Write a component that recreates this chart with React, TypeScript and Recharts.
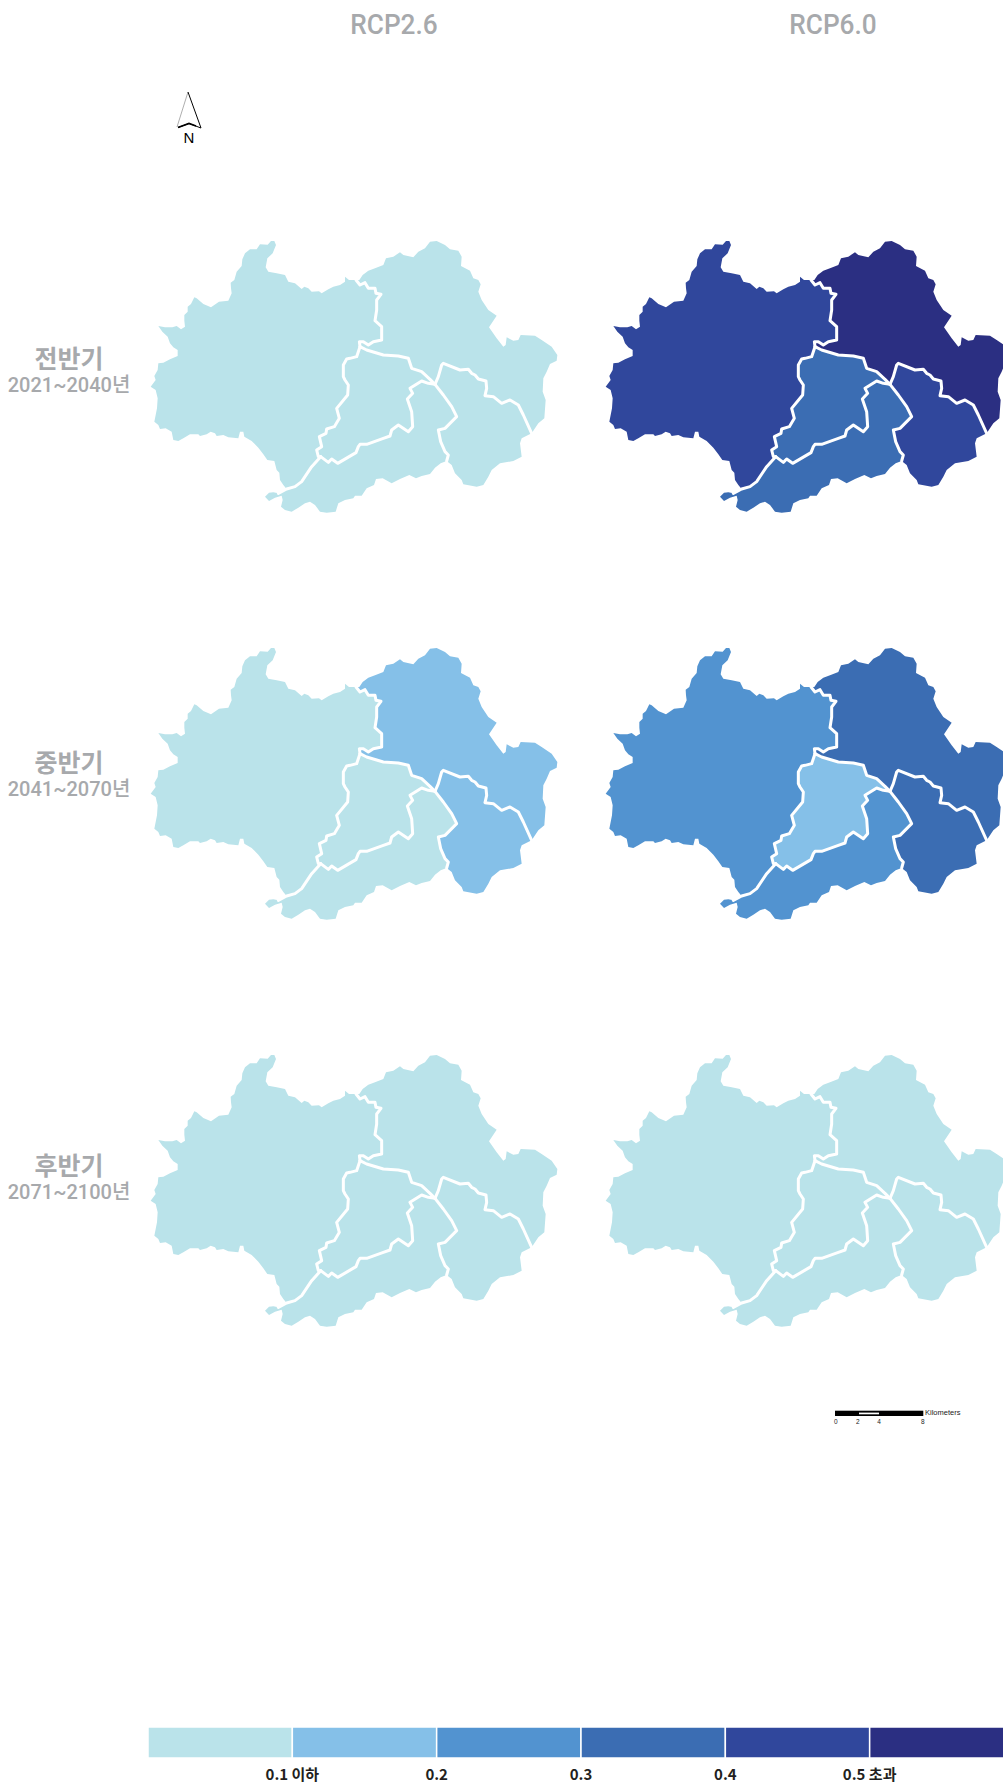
import { ScatterChart, Scatter, XAxis, YAxis, BarChart, Bar } from 'recharts'

type Pt = [number, number]

// map units: 3 units = 1 px on the page
// shared boundaries
const N1: Pt = [633, 150]
const J1: Pt = [645, 350]
const J2: Pt = [527, 680]
const J3: Pt = [870, 463]
const S1: Pt = [425, 777]
const S2: Pt = [905, 693]
const S3: Pt = [1160, 610]

const outerA: Pt[] = [N1, [612, 150], [600, 140], [600, 155], [585, 165], [565, 170], [550, 178], [530, 190], [522, 184], [500, 185], [490, 175], [478, 170], [470, 177], [450, 160], [430, 155], [420, 135], [395, 130], [370, 125], [362, 112], [367, 85], [383, 70], [393, 45], [388, 33], [378, 33], [368, 44], [345, 43], [335, 58], [315, 58], [300, 70], [292, 88], [290, 108], [275, 125], [268, 150], [257, 158], [258, 175], [260, 190], [250, 212], [222, 215], [198, 232], [175, 222], [155, 205], [148, 202], [138, 222], [128, 230], [128, 245], [118, 255], [118, 272], [120, 290], [108, 298], [95, 288], [82, 292], [60, 292], [40, 288], [52, 305], [68, 320], [75, 340], [85, 352], [98, 360], [98, 378], [75, 388], [55, 398], [40, 400], [38, 420], [28, 438], [32, 450], [17, 470], [32, 480], [38, 505], [36, 535], [28, 575], [40, 585], [45, 597], [62, 595], [80, 605], [85, 630], [100, 633], [115, 625], [135, 613], [160, 613], [165, 618], [185, 613], [197, 605], [210, 610], [215, 618], [235, 615], [250, 622], [280, 625], [285, 605], [295, 605], [298, 620], [320, 633], [340, 653], [355, 673], [367, 690], [388, 693], [395, 720], [403, 728], [405, 750], [415, 765], S1]
const outerD: Pt[] = [S1, [400, 790], [385, 787], [372, 788], [360, 800], [372, 813], [390, 803], [410, 797], [413, 810], [408, 830], [420, 840], [440, 845], [460, 833], [480, 820], [495, 815], [510, 825], [525, 845], [545, 848], [572, 845], [580, 820], [600, 810], [625, 805], [630, 797], [650, 797], [665, 775], [687, 765], [693, 747], [713, 745], [740, 760], [765, 747], [793, 735], [813, 745], [830, 738], [855, 732], [870, 713], [887, 700], S2]
const outerE: Pt[] = [S3, [1130, 625], [1125, 640], [1130, 680], [1105, 693], [1065, 700], [1040, 720], [1030, 740], [1015, 765], [995, 770], [955, 763], [950, 750], [930, 730], [920, 705], S2]
const outerB: Pt[] = [N1, [643, 150], [653, 135], [670, 122], [690, 115], [715, 105], [723, 85], [745, 80], [765, 67], [775, 75], [805, 82], [820, 65], [840, 55], [855, 35], [875, 33], [900, 45], [915, 58], [940, 62], [950, 80], [948, 108], [975, 122], [985, 145], [1000, 150], [1007, 163], [1000, 185], [1010, 210], [1030, 240], [1055, 257], [1032, 292], [1055, 325], [1075, 350], [1082, 345], [1085, 322], [1105, 332], [1120, 330], [1127, 315], [1170, 317], [1190, 330], [1220, 350], [1237, 375], [1235, 392], [1215, 402], [1205, 425], [1195, 445], [1193, 485], [1202, 510], [1198, 565], [1180, 580], S3]

const lineAB: Pt[] = [N1, [645, 165], [660, 158], [670, 175], [690, 175], [693, 190], [708, 193], [695, 210], [695, 240], [690, 272], [710, 290], [710, 330], [685, 335], [670, 345], [655, 335], [643, 335], J1]
const lineAC: Pt[] = [J1, [635, 380], [615, 385], [605, 387], [595, 405], [595, 440], [600, 450], [610, 465], [608, 495], [575, 535], [583, 565], [568, 590], [545, 597], [543, 610], [523, 620], [530, 650], [515, 660], [520, 680], J2]
const lineAD: Pt[] = [J2, [500, 710], [470, 755], [450, 770], S1, [400, 790]]
const lineCB: Pt[] = [J1, [665, 360], [715, 375], [760, 378], [790, 385], [800, 415], [830, 425], [855, 448], J3]
const lineCD: Pt[] = [J3, [850, 460], [830, 453], [795, 475], [803, 490], [787, 507], [800, 545], [803, 590], [790, 605], [760, 585], [740, 600], [735, 618], [715, 625], [665, 643], [645, 643], [640, 650], [633, 668], [578, 700], [560, 687], [550, 697], J2]
const lineDE: Pt[] = [J3, [895, 495], [920, 530], [935, 560], [900, 595], [880, 600], [887, 635], [900, 665], [910, 675], S2]
const lineBE: Pt[] = [J3, [880, 440], [890, 405], [895, 400], [945, 420], [970, 418], [980, 430], [990, 435], [1000, 447], [1023, 453], [1025, 475], [1020, 497], [1045, 500], [1070, 520], [1095, 510], [1120, 525], [1135, 555], S3]

const rev = (p: Pt[]) => [...p].reverse()

const regionA = [...outerA, ...rev(lineAD).slice(1), ...rev(lineAC), ...rev(lineAB)]
const regionB = [...outerB, ...rev(lineBE), ...rev(lineCB), ...rev(lineAB)]
const regionC = [...lineAC, ...rev(lineCD), ...rev(lineCB)]
const regionD = [...lineAD, ...outerD, ...rev(lineDE), ...lineCD]
const regionE = [...lineBE, ...outerE, ...rev(lineDE)]

const regions = [regionA, regionB, regionC, regionD, regionE]
const boundaries = [lineAB, lineAC, lineAD, lineCB, lineCD, lineDE, lineBE]

// colour class of regions A,B,C,D,E in each panel
const early26 = [0, 0, 0, 0, 0]
const early60 = [4, 5, 3, 3, 4]
const mid26 = [0, 1, 0, 0, 1]
const mid60 = [2, 3, 1, 2, 3]
const late26 = [0, 0, 0, 0, 0]
const late60 = [0, 0, 0, 0, 0]

const classColors = ['#BAE3EA', '#85C0E8', '#5293D0', '#3B6DB3', '#30479C', '#2B2F82']
const legendLabels = ['0.1 이하', '0.2', '0.3', '0.4', '0.5 초과']
const legendTicks = [1, 2, 3, 4, 5]
const legendRow = [{ name: 'legend', c0: 1, c1: 1, c2: 1, c3: 1, c4: 1, c5: 1 }]

const scenarios = ['RCP2.6', 'RCP6.0']
const periods = ['전반기', '중반기', '후반기']
const years = ['2021~2040년', '2041~2070년', '2071~2100년']

const GREY = '#A7A9AC'
const toData = (p: Pt[]) => p.map(([x, y]) => ({ x, y }))
const noDot = () => null
const toStr = (pts: { x: number; y: number }[]) => pts.map((p) => `${p.x},${p.y}`).join(' ')

function MapPanel({ classes, left, top }: { classes: number[]; left: number; top: number }) {
  return (
    <div style={{ position: 'absolute', left, top }}>
      <ScatterChart width={430} height={300} margin={{ top: 0, right: 0, bottom: 0, left: 0 }}>
        <XAxis type="number" dataKey="x" domain={[0, 1290]} hide />
        <YAxis type="number" dataKey="y" domain={[0, 900]} reversed hide />
        {regions.map((r, i) => (
          <Scatter
            key={'r' + i}
            data={toData(r)}
            shape={noDot}
            isAnimationActive={false}
            line={(p: any) => <polygon points={toStr(p.points)} fill={classColors[classes[i]]} stroke="none" />}
          />
        ))}
        {boundaries.map((b, i) => (
          <Scatter
            key={'b' + i}
            data={toData(b)}
            shape={noDot}
            isAnimationActive={false}
            line={(p: any) => (
              <polyline points={toStr(p.points)} fill="none" stroke="#fff" strokeWidth={3} strokeLinejoin="round" strokeLinecap="round" />
            )}
          />
        ))}
      </ScatterChart>
    </div>
  )
}

function Legend() {
  return (
    <div style={{ position: 'absolute', left: 148, top: 1727 }}>
      <BarChart width={866} height={56} layout="vertical" data={legendRow} barCategoryGap={0} margin={{ top: 0, right: 0, bottom: 0, left: 0 }}>
        <XAxis
          type="number"
          domain={[0, 6]}
          ticks={legendTicks}
          interval={0}
          axisLine={false}
          tickLine={false}
          height={25}
          tickMargin={5}
          tickFormatter={(v: number) => legendLabels[v - 1]}
          tick={{ fontSize: 15, fontWeight: 700, fill: '#231F20', fontFamily: '"Noto Sans CJK KR"' }}
        />
        <YAxis type="category" dataKey="name" hide />
        {classColors.map((c, i) => (
          <Bar key={c} dataKey={'c' + i} stackId="a" fill={c} stroke="#fff" strokeWidth={1.5} isAnimationActive={false} />
        ))}
      </BarChart>
    </div>
  )
}

function NorthArrow() {
  return (
    <svg style={{ position: 'absolute', left: 170, top: 85 }} width={40} height={64}>
      <path d="M7 42 L18 7" stroke="#777" strokeWidth={0.6} fill="none" />
      <path d="M18 7 L31 43 L19 38.5 L8 42.5" stroke="#000" strokeWidth={1} fill="none" />
      <path d="M8 42.5 L19 38.5 L26 41" stroke="#000" strokeWidth={1.8} fill="none" />
      <text x={19} y={57.5} textAnchor="middle" fontSize={15} fontFamily="Liberation Sans" fill="#000">N</text>
    </svg>
  )
}

const scaleTicks = [
  ['0', 835.7],
  ['2', 857.7],
  ['4', 879],
  ['8', 922.7],
] as const

function ScaleBar() {
  return (
    <svg style={{ position: 'absolute', left: 0, top: 1400 }} width={1003} height={30}>
      <rect x={835} y={10.7} width={88.3} height={5.3} fill="#000" />
      <rect x={859} y={12.6} width={20} height={1.7} fill="#fff" />
      {scaleTicks.map(([t, x]) => (
        <text key={t} x={x} y={23.5} textAnchor="middle" fontSize={6.5} fontFamily="Liberation Sans" fill="#222">{t}</text>
      ))}
      <text x={925} y={14.5} fontSize={7.5} fontFamily="Liberation Sans" fill="#222">Kilometers</text>
    </svg>
  )
}

const labelBase: any = { position: 'absolute', left: 0, color: GREY, whiteSpace: 'nowrap', textAlign: 'center', fontFamily: 'Roboto, "Noto Sans CJK KR"' }

export default function App() {
  const colX = [145, 600]
  const rowY = [230, 637, 1044]
  const panels = [
    [early26, early60],
    [mid26, mid60],
    [late26, late60],
  ]
  return (
    <div style={{ position: 'absolute', left: 0, top: 0, width: 1003, height: 1783, overflow: 'hidden', background: '#fff' }}>
      {scenarios.map((s, i) => (
        <div key={s} style={{ ...labelBase, left: [294, 733][i], width: 200, top: 8, fontSize: 28.5, fontWeight: 500, lineHeight: '34px', transform: 'scaleX(0.92)' }}>{s}</div>
      ))}
      {periods.map((p, i) => (
        <div key={p}>
          <div style={{ ...labelBase, width: 138, top: 345 + i * 403.5, fontSize: 25, fontWeight: 700, lineHeight: '30px' }}>{p}</div>
          <div style={{ ...labelBase, width: 138, top: 372 + i * 403.5, fontSize: 20, fontWeight: 500, lineHeight: '26px' }}>{years[i]}</div>
        </div>
      ))}
      <NorthArrow />
      {panels.map((row, r) =>
        row.map((classes, c) => <MapPanel key={r + '-' + c} classes={classes} left={colX[c]} top={rowY[r]} />)
      )}
      <ScaleBar />
      <Legend />
    </div>
  )
}
